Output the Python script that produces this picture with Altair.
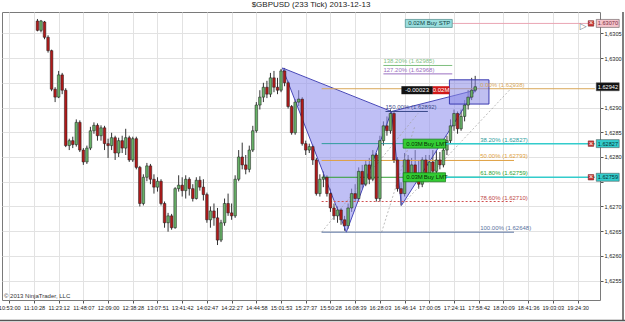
import altair as alt
import pandas as pd

# ---------------- data ----------------
opens = [1.63075, 1.63056, 1.63073, 1.63042, 1.63015, 1.62937, 1.62921, 1.62966, 1.62935, 1.62823,
         1.62833, 1.62825, 1.62870, 1.62814, 1.62790, 1.62818, 1.62853, 1.62864, 1.62843, 1.62859,
         1.62827, 1.62823, 1.62839, 1.62808, 1.62833, 1.62818, 1.62839, 1.62794, 1.62837, 1.62779,
         1.62706, 1.62759, 1.62782, 1.62755, 1.62739, 1.62751, 1.62706, 1.62667, 1.62681, 1.62657,
         1.62736, 1.62743, 1.62732, 1.62755, 1.62736, 1.62716, 1.62753, 1.62739, 1.62724, 1.62673,
         1.62691, 1.62677, 1.62632, 1.62667, 1.62706, 1.62687, 1.62681, 1.62755, 1.62800, 1.62784,
         1.62775, 1.62814, 1.62853, 1.62905, 1.62921, 1.62941, 1.62927, 1.62960, 1.62941, 1.62935,
         1.62974, 1.62950, 1.62902, 1.62849, 1.62911, 1.62917, 1.62827, 1.62814, 1.62821, 1.62794,
         1.62726, 1.62755, 1.62759, 1.62726, 1.62697, 1.62681, 1.62693, 1.62673, 1.62661, 1.62697,
         1.62726, 1.62716, 1.62771, 1.62745, 1.62784, 1.62755, 1.62804, 1.62716, 1.62833, 1.62863,
         1.62853, 1.62888, 1.62794, 1.62736, 1.62726, 1.62794, 1.62759, 1.62784, 1.62765, 1.62745,
         1.62794, 1.62759, 1.62790, 1.62771, 1.62794, 1.62784, 1.62814, 1.62833, 1.62863, 1.62888,
         1.62857, 1.62882, 1.62905, 1.62921, 1.62935]
highs = [1.63079, 1.63077, 1.63075, 1.63046, 1.63017, 1.62941, 1.62974, 1.62970, 1.62939, 1.62837,
         1.62841, 1.62876, 1.62874, 1.62818, 1.62823, 1.62861, 1.62870, 1.62868, 1.62864, 1.62863,
         1.62837, 1.62849, 1.62843, 1.62839, 1.62843, 1.62857, 1.62843, 1.62841, 1.62841, 1.62782,
         1.62765, 1.62788, 1.62786, 1.62765, 1.62759, 1.62755, 1.62710, 1.62687, 1.62685, 1.62739,
         1.62763, 1.62759, 1.62763, 1.62759, 1.62745, 1.62759, 1.62761, 1.62755, 1.62728, 1.62700,
         1.62706, 1.62697, 1.62673, 1.62716, 1.62726, 1.62706, 1.62763, 1.62814, 1.62829, 1.62804,
         1.62823, 1.62863, 1.62911, 1.62935, 1.62950, 1.62954, 1.62970, 1.62974, 1.62960, 1.62978,
         1.62980, 1.62954, 1.62905, 1.62917, 1.62935, 1.62921, 1.62833, 1.62827, 1.62825, 1.62798,
         1.62765, 1.62771, 1.62763, 1.62736, 1.62706, 1.62700, 1.62697, 1.62681, 1.62706, 1.62736,
         1.62745, 1.62779, 1.62784, 1.62794, 1.62798, 1.62814, 1.62808, 1.62843, 1.62872, 1.62882,
         1.62896, 1.62892, 1.62800, 1.62749, 1.62808, 1.62804, 1.62798, 1.62814, 1.62794, 1.62800,
         1.62804, 1.62804, 1.62814, 1.62814, 1.62810, 1.62823, 1.62843, 1.62876, 1.62896, 1.62892,
         1.62896, 1.62915, 1.62935, 1.62960, 1.62964]
lows = [1.63054, 1.63052, 1.63038, 1.63011, 1.62933, 1.62911, 1.62919, 1.62927, 1.62820, 1.62814,
        1.62818, 1.62821, 1.62810, 1.62784, 1.62786, 1.62814, 1.62847, 1.62833, 1.62833, 1.62814,
        1.62798, 1.62814, 1.62794, 1.62800, 1.62808, 1.62804, 1.62790, 1.62790, 1.62775, 1.62700,
        1.62702, 1.62751, 1.62745, 1.62726, 1.62730, 1.62702, 1.62657, 1.62649, 1.62653, 1.62655,
        1.62730, 1.62720, 1.62716, 1.62722, 1.62710, 1.62714, 1.62732, 1.62712, 1.62667, 1.62657,
        1.62661, 1.62622, 1.62628, 1.62661, 1.62681, 1.62673, 1.62677, 1.62751, 1.62775, 1.62765,
        1.62769, 1.62810, 1.62849, 1.62896, 1.62911, 1.62919, 1.62921, 1.62931, 1.62927, 1.62931,
        1.62943, 1.62898, 1.62845, 1.62845, 1.62903, 1.62823, 1.62804, 1.62808, 1.62784, 1.62722,
        1.62720, 1.62739, 1.62720, 1.62689, 1.62673, 1.62667, 1.62663, 1.62651, 1.62655, 1.62689,
        1.62710, 1.62712, 1.62736, 1.62741, 1.62745, 1.62751, 1.62710, 1.62710, 1.62823, 1.62843,
        1.62847, 1.62788, 1.62730, 1.62702, 1.62720, 1.62755, 1.62751, 1.62755, 1.62736, 1.62739,
        1.62751, 1.62755, 1.62765, 1.62765, 1.62775, 1.62779, 1.62804, 1.62827, 1.62853, 1.62847,
        1.62853, 1.62872, 1.62896, 1.62915, 1.62931]
closes = [1.63056, 1.63075, 1.63042, 1.63015, 1.62937, 1.62921, 1.62966, 1.62935, 1.62823, 1.62833,
          1.62825, 1.62870, 1.62814, 1.62790, 1.62818, 1.62853, 1.62864, 1.62843, 1.62859, 1.62827,
          1.62823, 1.62839, 1.62808, 1.62833, 1.62818, 1.62839, 1.62794, 1.62837, 1.62779, 1.62706,
          1.62759, 1.62782, 1.62755, 1.62739, 1.62751, 1.62706, 1.62667, 1.62681, 1.62657, 1.62736,
          1.62743, 1.62732, 1.62755, 1.62736, 1.62716, 1.62753, 1.62739, 1.62724, 1.62673, 1.62691,
          1.62677, 1.62632, 1.62667, 1.62706, 1.62687, 1.62681, 1.62755, 1.62800, 1.62784, 1.62775,
          1.62814, 1.62853, 1.62905, 1.62921, 1.62941, 1.62927, 1.62960, 1.62941, 1.62935, 1.62974,
          1.62950, 1.62902, 1.62849, 1.62911, 1.62917, 1.62827, 1.62814, 1.62821, 1.62794, 1.62726,
          1.62755, 1.62759, 1.62726, 1.62697, 1.62681, 1.62693, 1.62673, 1.62661, 1.62697, 1.62726,
          1.62716, 1.62771, 1.62745, 1.62784, 1.62755, 1.62804, 1.62716, 1.62833, 1.62863, 1.62853,
          1.62888, 1.62794, 1.62736, 1.62726, 1.62794, 1.62759, 1.62784, 1.62765, 1.62745, 1.62794,
          1.62759, 1.62790, 1.62771, 1.62794, 1.62784, 1.62814, 1.62833, 1.62863, 1.62888, 1.62857,
          1.62882, 1.62905, 1.62921, 1.62935, 1.62942]

time_labels = ["10:53:00", "11:10:28", "11:23:12", "11:48:07", "12:09:00", "12:38:28",
               "13:07:51", "13:41:42", "14:02:47", "14:22:27", "14:44:58", "15:01:53",
               "15:27:37", "15:50:28", "16:08:39", "16:28:03", "16:46:14", "17:00:05",
               "17:24:11", "17:58:42", "18:20:09", "18:41:36", "19:03:03", "19:24:30"]
label_first_bar = -8
bars_per_label = 7
price_ticks = [1.6255, 1.6260, 1.6265, 1.6270, 1.6275, 1.6280, 1.6285,
               1.6290, 1.6295, 1.6300, 1.6305]
# price-axis labels hidden behind the price flags in the reference
hidden_price_labels = ["1.6295", "1.6275"]

# harmonic pattern points (bar, price)
tri1_x = [69.4, 87.5, 100.3]
tri1_lo = [1.62980, 1.62648, 1.62892]
tri1_hi = [1.62980, 1.62928, 1.62892]
tri2_x = [100.3, 103.1, 124.0]
tri2_lo = [1.62892, 1.62702, 1.62935]
tri2_hi = [1.62892, 1.62897, 1.62935]
edge1_x = [69.4, 87.5, 100.3, 69.4]
edge1_y = [1.62980, 1.62648, 1.62892, 1.62980]
edge2_x = [100.3, 103.1, 124.0, 100.3]
edge2_y = [1.62892, 1.62702, 1.62935, 1.62892]

# fibonacci retracement levels
fib_names = ["0.00%", "38.20%", "50.00%", "61.80%", "78.60%", "100.00%"]
fib_prices = [1.62938, 1.62827, 1.62793, 1.62759, 1.62710, 1.62648]
fib_colors = ["#d9a85a", "#2e9c9c", "#e0a040", "#2f9f2f", "#c04848", "#5a72a0"]
# fibonacci extension levels
ext_names = ["138.20%", "127.20%", "150.00%"]
ext_prices = [1.62985, 1.62968, 1.62892]
ext_colors = ["#7fbf7f", "#9a6fc0", "#3a4a8a"]

# orders
order_prices = [1.62827, 1.62759]
order_qty = ["0.03M", "0.03M"]
order_type = ["Buy LMT", "Buy LMT"]
stop_price = 1.63070
last_price = 1.62942

# ---------------- scales / axes ----------------
xs = alt.Scale(domain=[-8.63, 157.94], nice=False, zero=False)
ys = alt.Scale(domain=[1.62521, 1.63083], nice=False, zero=False)
FONT = "Liberation Sans"
AXFS = 5.6

tick_values = [label_first_bar + bars_per_label * k for k in range(len(time_labels))]
lbl_arr = "[" + ",".join("'%s'" % t for t in time_labels) + "]"
x_label_expr = "%s[round((datum.value - (%d)) / %d)]" % (lbl_arr, label_first_bar, bars_per_label)
hid_arr = "[" + ",".join("'%s'" % h for h in hidden_price_labels) + "]"
y_label_expr = ("indexof(%s, format(datum.value, '.4f')) >= 0 ? '' : "
                "replace(format(datum.value, '.4f'), '.', ',')") % hid_arr

x_axis = alt.Axis(values=tick_values, labelExpr=x_label_expr, grid=True, gridColor="#e2e2e2",
                  gridWidth=1, tickSize=3, tickColor="#555", labelFontSize=AXFS, labelFont=FONT,
                  labelColor="#222", domain=False, title=None, labelOverlap=False,
                  labelFlush=False, labelPadding=2)
y_axis = alt.Axis(orient="right", values=price_ticks, labelExpr=y_label_expr,
                  grid=True, gridColor="#e2e2e2", tickSize=3, tickColor="#555",
                  labelFontSize=AXFS, labelFont=FONT, labelColor="#222", domain=False,
                  title=None, labelPadding=1)


def X(f):
    return alt.X(f, type="quantitative", scale=xs, axis=x_axis, title=None)


def Y(f):
    return alt.Y(f, type="quantitative", scale=ys, axis=y_axis, title=None)


n = len(closes)
candles = pd.DataFrame({"bar": list(range(n)), "open": opens, "high": highs,
                        "low": lows, "close": closes})
candles["dir"] = ["up" if c >= o else "down" for o, c in zip(opens, closes)]

wick = alt.Chart(candles).mark_rule(color="#333", strokeWidth=1).encode(
    x=X("bar"), y=Y("low"), y2="high:Q")

body = alt.Chart(candles).mark_bar(width=2.6, stroke="#1a1a1a", strokeWidth=0.5).encode(
    x=X("bar"), y=Y("open"), y2="close:Q",
    color=alt.Color("dir:N", scale=alt.Scale(domain=["up", "down"], range=["#67b067", "#b01a1a"]),
                    legend=None))

t1 = pd.DataFrame({"x": tri1_x, "lo": tri1_lo, "hi": tri1_hi})
t2 = pd.DataFrame({"x": tri2_x, "lo": tri2_lo, "hi": tri2_hi})
area1 = alt.Chart(t1).mark_area(color="#9494ee", opacity=0.6, interpolate="linear").encode(
    x=X("x"), y=Y("lo"), y2="hi:Q")
area2 = alt.Chart(t2).mark_area(color="#9494ee", opacity=0.6, interpolate="linear").encode(
    x=X("x"), y=Y("lo"), y2="hi:Q")
e1 = pd.DataFrame({"x": edge1_x, "y": edge1_y, "o": list(range(4))})
e2 = pd.DataFrame({"x": edge2_x, "y": edge2_y, "o": list(range(4))})
edge1 = alt.Chart(e1).mark_line(color="#4848b8", strokeWidth=1).encode(x=X("x"), y=Y("y"), order="o:Q")
edge2 = alt.Chart(e2).mark_line(color="#4848b8", strokeWidth=1).encode(x=X("x"), y=Y("y"), order="o:Q")

box_df = pd.DataFrame({"x1": [116.7], "x2": [127.9], "y1": [1.62956], "y2": [1.62907]})
box = alt.Chart(box_df).mark_rect(fill="#8a8ae6", fillOpacity=0.55, stroke="#3a3ab0", strokeWidth=1).encode(
    x=X("x1"), x2="x2:Q", y=Y("y1"), y2="y2:Q")

gl = pd.DataFrame({"x": [80.5, 107.8, 97.5, 106.8, 103.1, 135.0],
                   "y": [1.62648, 1.62888, 1.62648, 1.62860, 1.62702, 1.62945],
                   "g": ["a", "a", "b", "b", "c", "c"]})
glines = alt.Chart(gl).mark_line(color="#a0a0a0", strokeWidth=0.7, strokeDash=[2, 2]).encode(
    x=X("x"), y=Y("y"), detail="g:N")

fib_df = pd.DataFrame({"name": fib_names, "price": fib_prices, "color": fib_colors,
                       "x1": [80.5] * 6, "x2": [157.9, 135, 135, 135, 135, 135],
                       "label": ["%s (%.5f)" % (a, b) for a, b in zip(fib_names, fib_prices)]})
fib_plain = fib_df[fib_df["name"] != "78.60%"]
fib_lines = alt.Chart(fib_plain).mark_rule(strokeWidth=1).encode(
    x=X("x1"), x2="x2:Q", y=Y("price"), color=alt.Color("color:N", scale=None))
fib_red = alt.Chart(fib_df[fib_df["name"] == "78.60%"]).mark_rule(strokeWidth=1, strokeDash=[2, 2], color="#d05050").encode(
    x=X("x1"), x2="x2:Q", y=Y("price"))
fib_text = alt.Chart(fib_df.assign(tx=125.4)).mark_text(align="left", baseline="bottom", dy=-1,
                                                      fontSize=6, font=FONT).encode(
    x=X("tx"), y=Y("price"), text="label:N", color=alt.Color("color:N", scale=None))

ext_df = pd.DataFrame({"name": ext_names, "price": ext_prices, "color": ext_colors,
                       "x1": [98.0, 98.0, 98.6], "x2": [117.5, 117.5, 110.6],
                       "label": ["%s (%.5f)" % (a, b) for a, b in zip(ext_names, ext_prices)]})
ext_lines = alt.Chart(ext_df).mark_rule(strokeWidth=1).encode(
    x=X("x1"), x2="x2:Q", y=Y("price"), color=alt.Color("color:N", scale=None))
ext_text = alt.Chart(ext_df).mark_text(align="left", baseline="bottom", dy=-1, fontSize=6, font=FONT).encode(
    x=X("x1"), y=Y("price"), text="label:N", color=alt.Color("color:N", scale=None))

ord_df = pd.DataFrame({"price": order_prices, "qty": order_qty, "typ": order_type,
                       "x1": [103.6] * 2, "x2": [115.6] * 2, "xe": [157.9] * 2,
                       "tq": [106.8] * 2, "tt": [112.8] * 2})
ord_lines = alt.Chart(ord_df).mark_rule(color="#33cccc", strokeWidth=1.5).encode(
    x=X("x2"), x2="xe:Q", y=Y("price"))
ord_box = alt.Chart(ord_df).mark_bar(size=9, color="#33cc33", stroke="#117711", strokeWidth=0.7).encode(
    x=X("x1"), x2="x2:Q", y=Y("price"))
ord_q = alt.Chart(ord_df).mark_text(fontSize=6, font=FONT, color="#063306").encode(
    x=X("tq"), y=Y("price"), text="qty:N")
ord_t = alt.Chart(ord_df).mark_text(fontSize=6, font=FONT, color="#063306").encode(
    x=X("tt"), y=Y("price"), text="typ:N")

stop_df = pd.DataFrame({"price": [stop_price], "x1": [104.2], "x2": [117.5], "xe": [157.9],
                        "q": ["0.02M"], "t": ["Buy STP"], "tq": [107.4], "tt": [113.6]})
stop_line = alt.Chart(stop_df).mark_rule(color="#eaa6b4", strokeWidth=1).encode(
    x=X("x2"), x2="xe:Q", y=Y("price"))
stop_box = alt.Chart(stop_df).mark_bar(size=8, color="#9adede", stroke="#4a8a8a", strokeWidth=0.7).encode(
    x=X("x1"), x2="x2:Q", y=Y("price"))
stop_q = alt.Chart(stop_df).mark_text(fontSize=6, font=FONT, color="#114444").encode(
    x=X("tq"), y=Y("price"), text="q:N")
stop_t = alt.Chart(stop_df).mark_text(fontSize=6, font=FONT, color="#114444").encode(
    x=X("tt"), y=Y("price"), text="t:N")

pos_df = pd.DataFrame({"price": [1.62935, 1.62935], "x1": [103.1, 112.0], "x2": [112.0, 116.7],
                       "tx": [107.55, 114.35], "txt": ["-0.00023", "0.02M"],
                       "c": ["#111111", "#d01818"]})
pos_box = alt.Chart(pos_df).mark_bar(size=8).encode(
    x=X("x1"), x2="x2:Q", y=Y("price"), color=alt.Color("c:N", scale=None))
pos_txt = alt.Chart(pos_df).mark_text(fontSize=6, font=FONT, color="white").encode(
    x=X("tx"), y=Y("price"), text="txt:N")

cx_df = pd.DataFrame({"price": order_prices + [stop_price], "x": [156.8] * 3})
cx_sq = alt.Chart(cx_df).mark_square(size=30, color="#cc3a3a", stroke="#661111", strokeWidth=0.5,
                                     opacity=1).encode(x=X("x"), y=Y("price"))
cx_t = alt.Chart(cx_df.assign(s="×")).mark_text(fontSize=7, color="white", font=FONT).encode(
    x=X("x"), y=Y("price"), text="s:N")
tri_mark = alt.Chart(pd.DataFrame({"x": [154.6], "price": [stop_price - 0.00006], "s": ["▷"]})).mark_text(
    fontSize=9, color="#777", font="DejaVu Sans").encode(x=X("x"), y=Y("price"), text="s:N")

flag_df = pd.DataFrame({"price": [stop_price, last_price] + order_prices,
                        "txt": ["%.5f" % stop_price, "%.5f" % last_price] + ["%.5f" % p for p in order_prices],
                        "fill": ["#f5c4cc", "#111111", "#33cccc", "#33cccc"],
                        "tc": ["#7a2a3a", "#ffffff", "#063333", "#063333"],
                        "x1": [158.3] * 4, "x2": [164.8] * 4, "tx": [161.6] * 4})
flag_box = alt.Chart(flag_df).mark_bar(size=8, stroke="#444", strokeWidth=0.5).encode(
    x=X("x1"), x2="x2:Q", y=Y("price"), color=alt.Color("fill:N", scale=None))
flag_txt = alt.Chart(flag_df).mark_text(fontSize=AXFS, font=FONT).encode(
    x=X("tx"), y=Y("price"), text="txt:N", color=alt.Color("tc:N", scale=None))

copyright_txt = alt.Chart(pd.DataFrame({"t": ["© 2013 NinjaTrader, LLC"]})).mark_text(
    align="left", baseline="bottom", fontSize=6, font=FONT, color="#333").encode(
    x=alt.value(2), y=alt.value(287), text="t:N")

# window frame (bottom and right edges of the screenshot)
frame_bottom = alt.Chart(pd.DataFrame({"k": [0]})).mark_rule(color="#555", strokeWidth=1.5).encode(
    x=alt.value(-2), x2=alt.value(623), y=alt.value(308.5))
frame_right = alt.Chart(pd.DataFrame({"k": [0]})).mark_rule(color="#555", strokeWidth=1.5).encode(
    x=alt.value(621), y=alt.value(0), y2=alt.value(309))

chart = alt.layer(
    wick, area1, area2, edge1, edge2, glines, fib_lines, fib_red, ext_lines, box,
    body, fib_text, ext_text, ord_lines, ord_box, ord_q, ord_t,
    stop_line, stop_box, stop_q, stop_t, pos_box, pos_txt, cx_sq, cx_t, tri_mark,
    flag_box, flag_txt, copyright_txt, frame_bottom, frame_right
).properties(
    width=598, height=288,
    title=alt.TitleParams("$GBPUSD (233 Tick)  2013-12-13", fontSize=8, font=FONT,
                          fontWeight="normal", color="#222", offset=2, dx=10, frame="group"),
    autosize=alt.AutoSizeParams(type="none"),
    padding={"left": 2, "top": 12, "right": 25, "bottom": 22},
    background="white"
).configure_view(stroke="#7a7a7a", strokeWidth=1)

chart.save("out.html", embed_options={"renderer": "svg", "actions": False})
